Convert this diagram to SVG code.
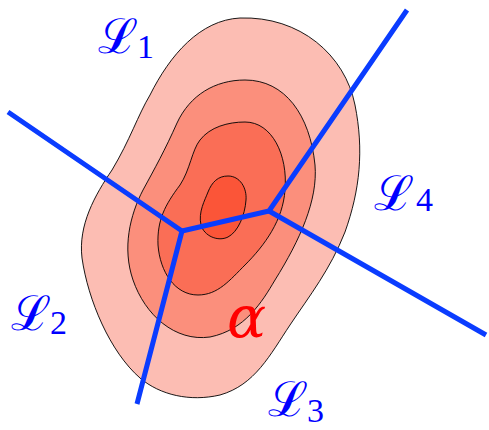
<svg xmlns="http://www.w3.org/2000/svg" width="489" height="430" viewBox="0 0 489 430">
<style>
.c{stroke:#000;stroke-width:0.9}
.ln{stroke:#0a3cff;stroke-width:5;fill:none;stroke-linecap:butt;stroke-linejoin:miter}
.lab{font-family:"DejaVu Serif","Liberation Serif",serif;fill:#0000ff}
.sub{font-family:"Liberation Serif",serif;fill:#0000ff}
</style>
<g id="contours">
<path class="c" fill="#fcbdb3" d="M 240,18 C 300,16 345,55 355,105 C 364,150 360,190 345,232 C 330,270 310,295 290,325 C 270,355 255,385 220,395 C 190,402 160,395 140,378 C 110,352 88,300 82,258 C 78,225 95,195 112,170 C 130,140 138,115 150,95 C 170,55 200,20 240,18 Z"/>
<path class="c" fill="#fb8f7c" d="M 245,80 C 285,80 310,115 315,165 C 318,200 300,240 275,280 C 262,302 245,330 210,337 C 175,342 145,315 133,280 C 122,248 130,215 143,190 C 155,168 165,150 177,123 C 190,95 215,80 245,80 Z"/>
<path class="c" fill="#fa6e56" d="M 245,122 C 272,122 288,155 285,190 C 283,220 265,245 245,265 C 230,280 218,295 198,295 C 175,295 160,272 158,245 C 157,220 165,205 180,185 C 190,170 192,150 200,140 C 210,127 228,122 245,122 Z"/>
<path class="c" fill="#fb5538" d="M 228,176 C 240,176 247,188 246,200 C 245,215 238,232 228,237 C 218,242 204,236 201,225 C 198,212 205,200 208,192 C 212,182 218,176 228,176 Z"/>
</g>
<g id="connectors">
<polyline class="ln" points="8,112 182,231 137,404"/>
<polyline class="ln" points="182,231 269,211 407,10"/>
<line class="ln" x1="269" y1="211" x2="486" y2="335"/>
</g>
<g id="L1"><text class="lab" x="98" y="53" font-size="48">ℒ</text><text class="sub" x="137" y="58" font-size="34">1</text></g>
<g id="L4"><text class="lab" x="374" y="210" font-size="48">ℒ</text><text class="sub" x="416" y="211" font-size="34">4</text></g>
<g id="L2"><text class="lab" x="11" y="330" font-size="48">ℒ</text><text class="sub" x="50" y="334" font-size="34">2</text></g>
<g id="L3"><text class="lab" x="268" y="416" font-size="48">ℒ</text><text class="sub" x="307" y="422" font-size="34">3</text></g>
<g id="alpha"><text x="227" y="337" font-family="DejaVu Serif,serif" font-style="italic" font-size="58" fill="#ff0000">α</text></g>
</svg>
